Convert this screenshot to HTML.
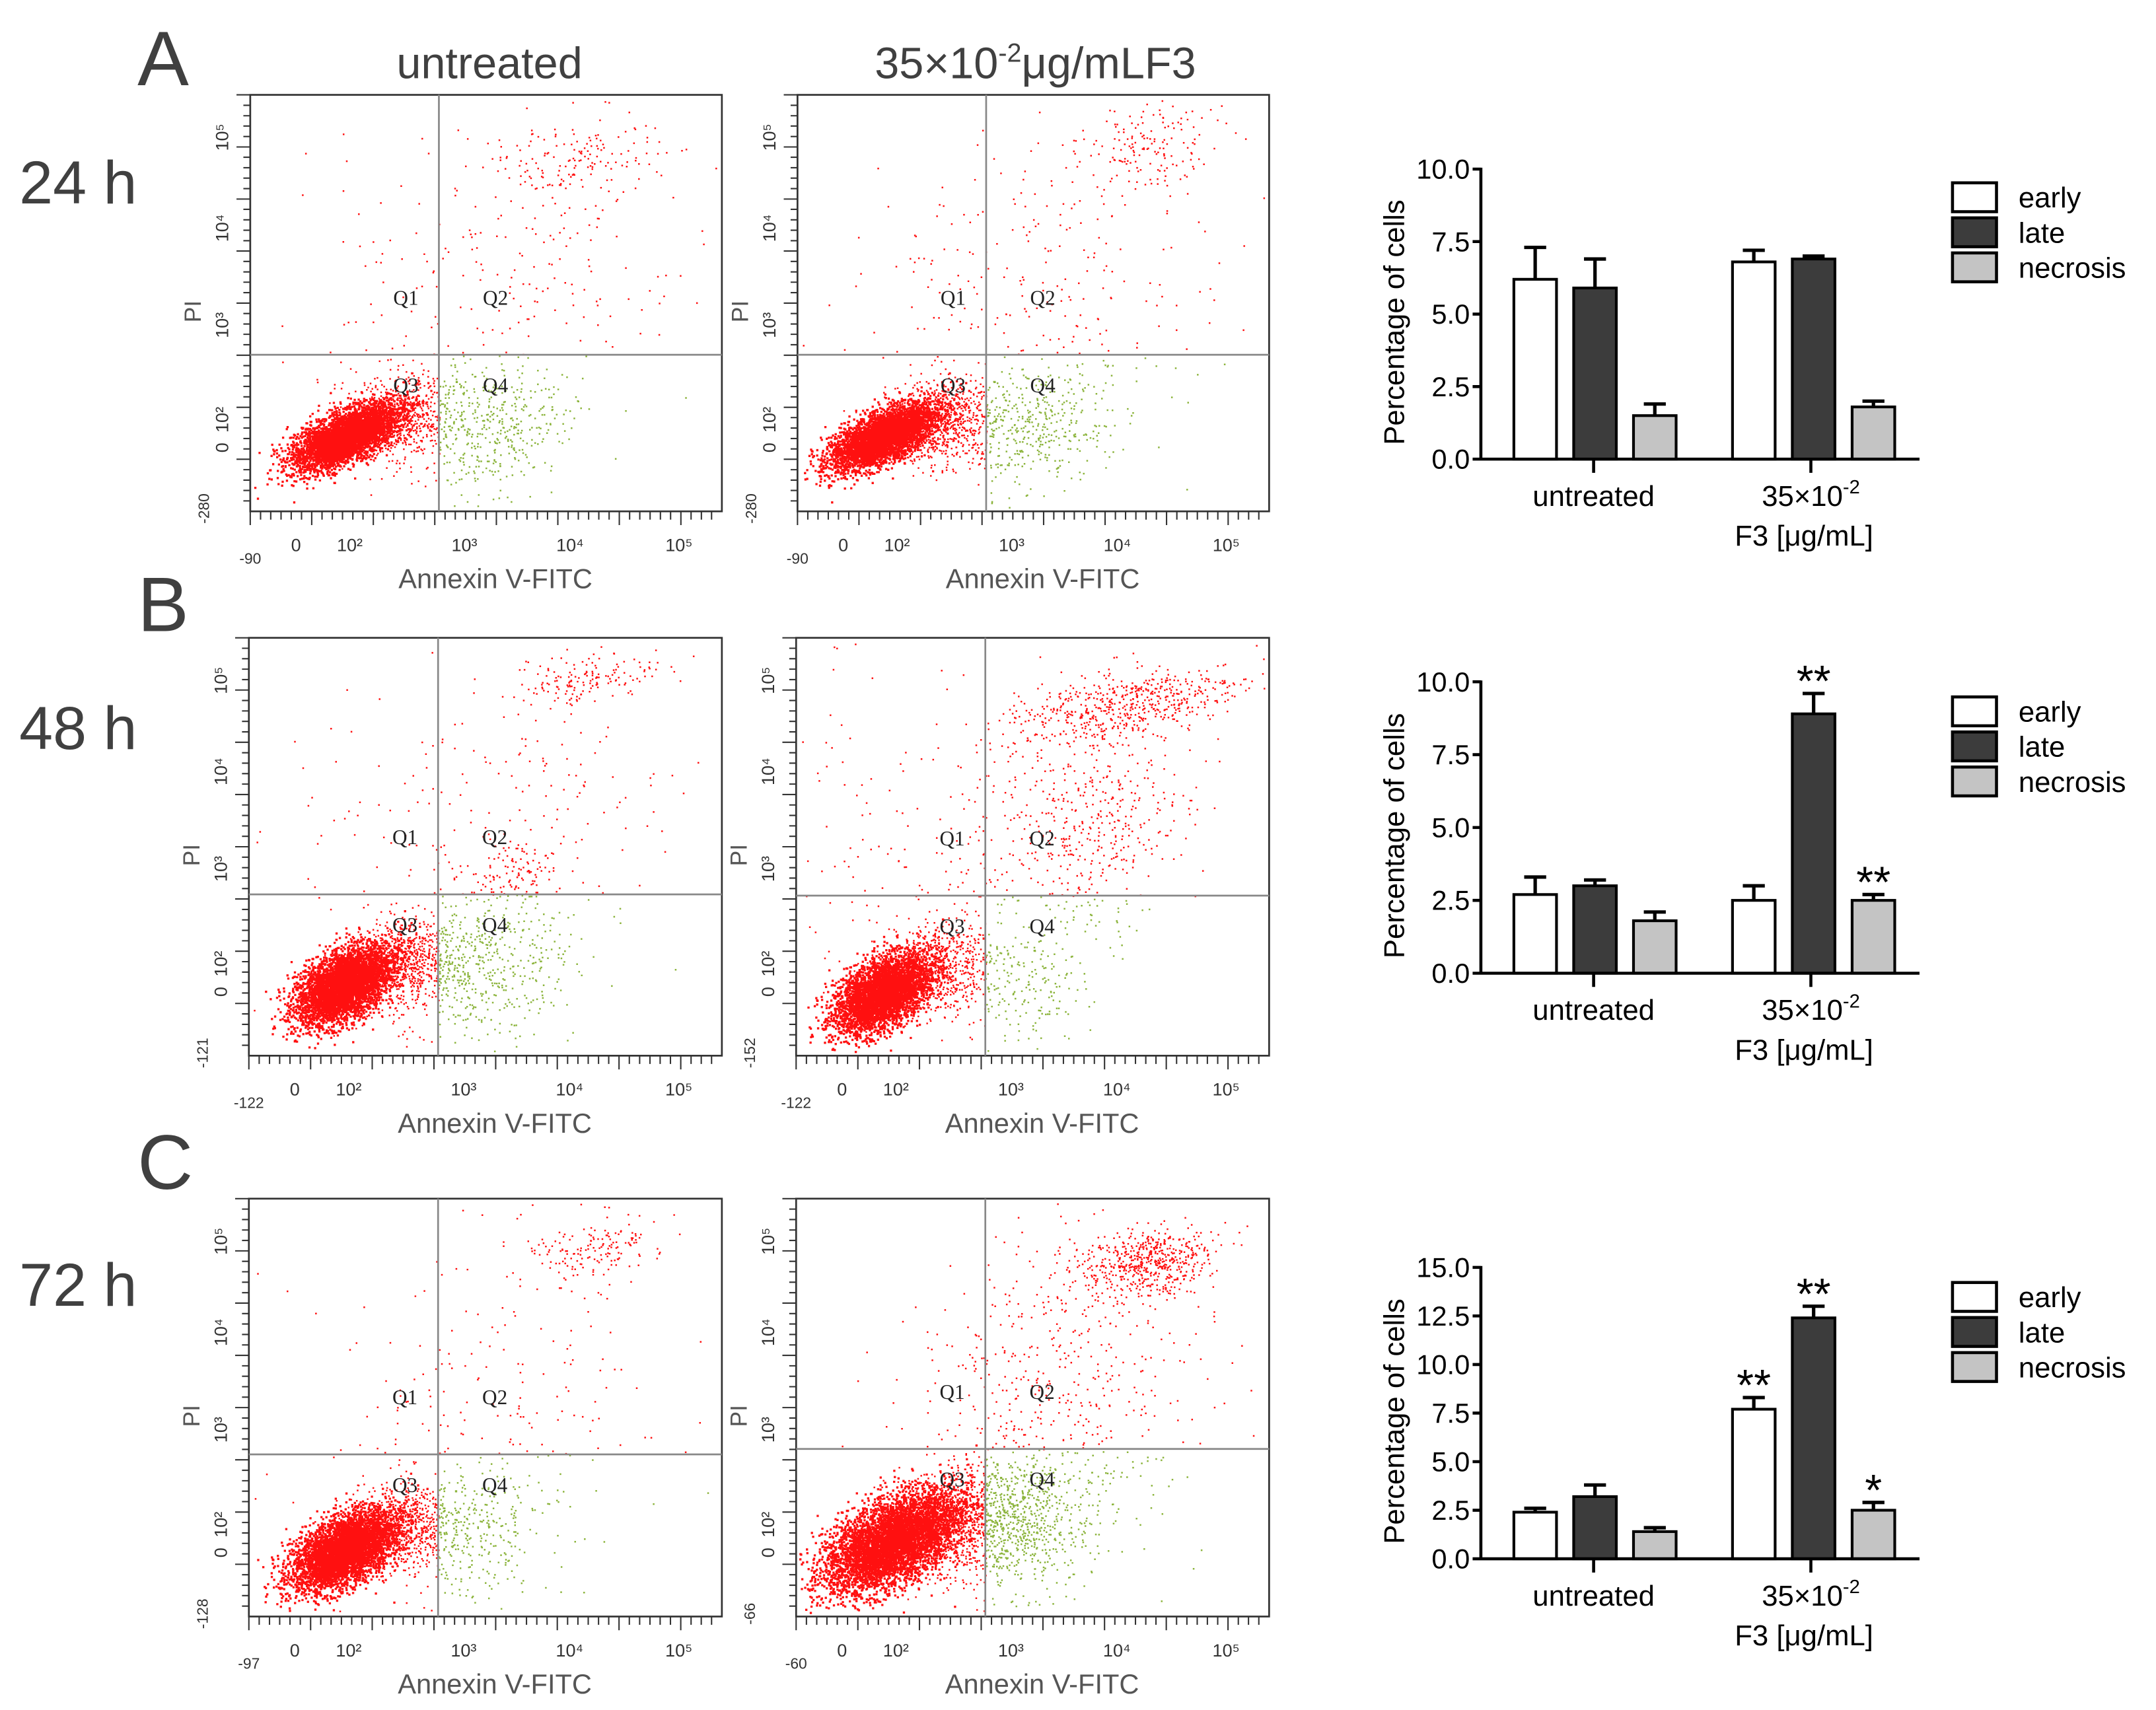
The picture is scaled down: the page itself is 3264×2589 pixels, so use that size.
<!DOCTYPE html>
<html><head><meta charset="utf-8">
<style>
html,body{margin:0;padding:0;background:#fff;}
svg{display:block;font-family:"Liberation Sans",sans-serif;}
</style></head>
<body>
<svg id="fig" xmlns="http://www.w3.org/2000/svg" width="3264" height="2589" viewBox="0 0 1568 1244" preserveAspectRatio="none">
<rect x="0" y="0" width="1568" height="1244" fill="#fff"/>
<g fill="#404040">
<text x="100" y="62" font-size="56">A</text>
<text x="100" y="459" font-size="56">B</text>
<text x="100" y="865" font-size="56">C</text>
<text x="14" y="148" font-size="44">24 h</text>
<text x="14" y="545" font-size="44">48 h</text>
<text x="14" y="950" font-size="44">72 h</text>
<text x="356" y="57" font-size="32" text-anchor="middle">untreated</text>
<text x="753" y="57" font-size="32" text-anchor="middle">35×10<tspan dy="-12" font-size="19">-2</tspan><tspan dy="12">μg/mLF3</tspan></text>
</g>
<g id="scatters"></g>
<g id="bars"></g>
</svg>
<script>
// ---------- Bar chart data ----------
const groups = ["untreated", "35×10-2"];
const seriesNames = ["early", "late", "necrosis"];
const seriesFill = ["#ffffff", "#3c3c3c", "#c4c4c4"];
const valsA = [[6.2, 5.9, 1.5], [6.8, 6.9, 1.8]];
const errA  = [[1.1, 1.0, 0.4], [0.4, 0.1, 0.2]];
const valsB = [[2.7, 3.0, 1.8], [2.5, 8.9, 2.5]];
const errB  = [[0.6, 0.2, 0.3], [0.5, 0.7, 0.2]];
const valsC = [[2.4, 3.2, 1.4], [7.7, 12.4, 2.5]];
const errC  = [[0.2, 0.6, 0.2], [0.6, 0.6, 0.4]];
const starsB = [["", "", ""], ["", "**", "**"]];
const starsC = [["", "", ""], ["**", "**", "*"]];
const starsA = [["", "", ""], ["", "", ""]];
const ticksAB = [0, 2.5, 5, 7.5, 10];
const ticksC = [0, 2.5, 5, 7.5, 10, 12.5, 15];

// ---------- Scatter cluster data (fraction coords: cx, cy, sx, sy, count) ----------
const clustersA1 = [[0.2,0.82,0.055,0.03,4200],[0.32,0.77,0.06,0.05,700],[0.52,0.8,0.08,0.07,380],[0.5,0.45,0.22,0.2,260],[0.71,0.15,0.08,0.05,140]];
const clustersA2 = [[0.18,0.82,0.055,0.03,4200],[0.31,0.78,0.06,0.05,700],[0.5,0.8,0.08,0.07,380],[0.5,0.45,0.22,0.2,280],[0.73,0.12,0.08,0.05,160]];
const clustersB1 = [[0.2,0.83,0.05,0.04,4500],[0.32,0.77,0.06,0.05,700],[0.48,0.8,0.1,0.08,500],[0.55,0.56,0.05,0.05,120],[0.5,0.45,0.2,0.2,220],[0.72,0.1,0.08,0.03,160]];
const clustersB2 = [[0.18,0.85,0.05,0.04,4000],[0.29,0.79,0.06,0.05,700],[0.46,0.82,0.08,0.07,200],[0.62,0.45,0.1,0.14,420],[0.7,0.16,0.12,0.04,550],[0.35,0.5,0.2,0.22,280]];
const clustersC1 = [[0.2,0.84,0.055,0.04,4500],[0.31,0.79,0.06,0.05,700],[0.47,0.8,0.08,0.08,300],[0.5,0.5,0.2,0.2,200],[0.73,0.12,0.07,0.04,170]];
const clustersC2 = [[0.2,0.82,0.07,0.05,6000],[0.33,0.77,0.07,0.06,900],[0.47,0.78,0.08,0.08,650],[0.55,0.45,0.15,0.2,550],[0.74,0.15,0.07,0.04,550]];

const NS = "http://www.w3.org/2000/svg";
function mk(tag, parent) { const e = document.createElementNS(NS, tag); parent.appendChild(e); return e; }

let seed = 12345;
function rnd() { seed = (seed * 1103515245 + 12345) & 0x7fffffff; return seed / 0x7fffffff; }
function gauss() { let u = rnd() || 1e-6, v = rnd(); return Math.sqrt(-2 * Math.log(u)) * Math.cos(2 * Math.PI * v); }

const scatterPanels = [
  {x:182,y:69,w:343,h:303,vf:0.40,hf:0.624,ymin:"-280",xmin:"-90",cl:clustersA1},
  {x:580,y:69,w:343,h:303,vf:0.40,hf:0.624,ymin:"-280",xmin:"-90",cl:clustersA2},
  {x:181,y:464,w:344,h:304,vf:0.40,hf:0.614,ymin:"-121",xmin:"-122",cl:clustersB1},
  {x:579,y:464,w:344,h:304,vf:0.40,hf:0.617,ymin:"-152",xmin:"-122",cl:clustersB2},
  {x:181,y:872,w:344,h:304,vf:0.40,hf:0.612,ymin:"-128",xmin:"-97",cl:clustersC1},
  {x:579,y:872,w:344,h:304,vf:0.40,hf:0.599,ymin:"-66",xmin:"-60",cl:clustersC2}
];
const sg = document.getElementById("scatters");
const xTickF = [0.097, 0.211, 0.454, 0.678, 0.909];
const xTickL = ["0", "10²", "10³", "10⁴", "10⁵"];
const yTickF = [0.847, 0.78, 0.553, 0.32, 0.102];
const yTickL = ["0", "10²", "10³", "10⁴", "10⁵"];

scatterPanels.forEach((p, pi) => {
  const g = mk("g", sg);
  
  
  let red = "", green = "";
  p.cl.forEach((c, ci) => {
    const tilt = ci === 0 ? 0.45 : 0.15;
    const sz = ci === 0 ? 1.6 : 1.2;
    for (let i = 0; i < c[4]; i++) {
      const dx = gauss() * c[2];
      let fx = c[0] + dx, fy = c[1] + gauss() * c[3] - tilt * dx;
      if (fx < 0.005 || fx > 0.99 || fy < 0.01 || fy > 0.99) continue;
      const px = (p.x + fx * p.w).toFixed(1), py = (p.y + fy * p.h).toFixed(1);
      const d = "M" + px + " " + py + "h" + sz + "v" + sz + "h-" + sz + "z";
      if (fx > p.vf && fy > p.hf) green += d; else red += d;
    }
  });
  const rp = mk("path", g);
  
  
  rp.setAttribute("d", red); rp.setAttribute("fill", "#ff1010");
  const gp = mk("path", g);
  
  
  gp.setAttribute("d", green); gp.setAttribute("fill", "#8cb43c");
  const fr = mk("rect", g);
  
  
  fr.setAttribute("x", p.x); fr.setAttribute("y", p.y); fr.setAttribute("width", p.w); fr.setAttribute("height", p.h);
  fr.setAttribute("fill", "none"); fr.setAttribute("stroke", "#333"); fr.setAttribute("stroke-width", "1.3");
  const vl = mk("line", g);
  
  
  vl.setAttribute("x1", p.x + p.vf * p.w); vl.setAttribute("x2", p.x + p.vf * p.w);
  vl.setAttribute("y1", p.y); vl.setAttribute("y2", p.y + p.h);
  vl.setAttribute("stroke", "#888"); vl.setAttribute("stroke-width", "1.3");
  const hl = mk("line", g);
  
  
  hl.setAttribute("x1", p.x); hl.setAttribute("x2", p.x + p.w);
  hl.setAttribute("y1", p.y + p.hf * p.h); hl.setAttribute("y2", p.y + p.hf * p.h);
  hl.setAttribute("stroke", "#888"); hl.setAttribute("stroke-width", "1.3");
  const ql = [["Q1", p.vf - 0.07, p.hf - 0.12], ["Q2", p.vf + 0.12, p.hf - 0.12], ["Q3", p.vf - 0.07, p.hf + 0.09], ["Q4", p.vf + 0.12, p.hf + 0.09]];
  ql.forEach(q => {
    const t = mk("text", g);
    
    
    t.setAttribute("x", p.x + q[1] * p.w); t.setAttribute("y", p.y + q[2] * p.h);
    t.setAttribute("font-size", "15"); t.setAttribute("fill", "#222"); t.setAttribute("font-family", "Liberation Serif, serif");
    t.setAttribute("text-anchor", "middle");
    t.textContent = q[0];
  });
  let minor = "";
  for (let i = 0; i < 46; i++) {
    const fx = i / 46; const len = (i % 6 === 0) ? 10 : 6;
    minor += "M" + (p.x + fx * p.w).toFixed(1) + " " + (p.y + p.h) + "v" + len;
  }
  for (let i = 0; i < 40; i++) {
    const fy = i / 40; const len = (i % 5 === 0) ? 10 : 5;
    minor += "M" + p.x + " " + (p.y + fy * p.h).toFixed(1) + "h-" + len;
  }
  const tk = mk("path", g);
  
  
  tk.setAttribute("d", minor); tk.setAttribute("stroke", "#333"); tk.setAttribute("stroke-width", "1");
  xTickF.forEach((f, i) => {
    const t = mk("text", g);
    
    
    t.setAttribute("x", p.x + f * p.w); t.setAttribute("y", p.y + p.h + 29);
    t.setAttribute("font-size", "13"); t.setAttribute("fill", "#333"); t.setAttribute("text-anchor", "middle");
    t.textContent = xTickL[i];
  });
  const xm = mk("text", g);
  
  
  xm.setAttribute("x", p.x); xm.setAttribute("y", p.y + p.h + 38);
  xm.setAttribute("font-size", "11"); xm.setAttribute("fill", "#333"); xm.setAttribute("text-anchor", "middle");
  xm.textContent = p.xmin;
  yTickF.forEach((f, i) => {
    const t = mk("text", g);
    
    
    const tx = p.x - 16, ty = p.y + f * p.h;
    t.setAttribute("transform", "translate(" + tx + "," + ty + ") rotate(-90)");
    t.setAttribute("font-size", "13"); t.setAttribute("fill", "#333"); t.setAttribute("text-anchor", "middle");
    t.textContent = yTickL[i];
  });
  const ym = mk("text", g);
  
  
  ym.setAttribute("transform", "translate(" + (p.x - 30) + "," + (p.y + p.h - 2) + ") rotate(-90)");
  ym.setAttribute("font-size", "11"); ym.setAttribute("fill", "#333"); ym.setAttribute("text-anchor", "middle");
  ym.textContent = p.ymin;
  const yt = mk("text", g);
  
  
  yt.setAttribute("transform", "translate(" + (p.x - 36) + "," + (p.y + 0.52 * p.h) + ") rotate(-90)");
  yt.setAttribute("font-size", "17"); yt.setAttribute("fill", "#555"); yt.setAttribute("text-anchor", "middle");
  yt.textContent = "PI";
  const xt = mk("text", g);
  
  
  xt.setAttribute("x", p.x + 0.52 * p.w); xt.setAttribute("y", p.y + p.h + 56);
  xt.setAttribute("font-size", "20"); xt.setAttribute("fill", "#555"); xt.setAttribute("text-anchor", "middle");
  xt.textContent = "Annexin V-FITC";
});

// ---------- Bar charts ----------
const bg = document.getElementById("bars");
const barCharts = [
  {vals: valsA, err: errA, stars: starsA, ticks: ticksAB, ymax: 10, y0: 334, y1: 123, legY: 143},
  {vals: valsB, err: errB, stars: starsB, ticks: ticksAB, ymax: 10, y0: 708, y1: 496, legY: 517},
  {vals: valsC, err: errC, stars: starsC, ticks: ticksC, ymax: 15, y0: 1134, y1: 922, legY: 943}
];
const ax = 1077, axEnd = 1396, barW = 31;
const groupStart = [1101, 1260], barStep = 43.5;
barCharts.forEach((c, ci) => {
  const g = mk("g", bg);
  
  
  const yS = v => c.y0 - (v / c.ymax) * (c.y0 - c.y1);
  c.vals.forEach((grp, gi) => {
    grp.forEach((v, si) => {
      const x = groupStart[gi] + si * barStep;
      const top = yS(v), et = yS(v + c.err[gi][si]);
      const eb = mk("path", g);
      
      
      eb.setAttribute("d", "M" + (x + barW / 2) + " " + top + "V" + et + "M" + (x + barW / 2 - 8) + " " + et + "h16");
      eb.setAttribute("stroke", "#000"); eb.setAttribute("stroke-width", "2.5");
      const r = mk("rect", g);
      
      
      r.setAttribute("x", x); r.setAttribute("y", top); r.setAttribute("width", barW); r.setAttribute("height", c.y0 - top);
      r.setAttribute("fill", seriesFill[si]); r.setAttribute("stroke", "#000"); r.setAttribute("stroke-width", "2");
      if (c.stars[gi][si]) {
        const st = mk("text", g);
        
        
        st.setAttribute("x", x + barW / 2); st.setAttribute("y", et + 2);
        st.setAttribute("font-size", "32"); st.setAttribute("text-anchor", "middle"); st.setAttribute("fill", "#000");
        st.textContent = c.stars[gi][si];
      }
    });
  });
  const axes = mk("path", g);
  
  
  let d = "M" + ax + " " + (c.y1 - 1) + "V" + c.y0 + "M" + (ax - 6) + " " + c.y0 + "H" + axEnd;
  c.ticks.forEach(t => { d += "M" + (ax - 6) + " " + yS(t) + "H" + ax; });
  d += "M1159 " + c.y0 + "v10M1317 " + c.y0 + "v10";
  axes.setAttribute("d", d); axes.setAttribute("stroke", "#000"); axes.setAttribute("stroke-width", "2.2"); axes.setAttribute("fill", "none");
  c.ticks.forEach(t => {
    const tl = mk("text", g);
    
    
    tl.setAttribute("x", ax - 8); tl.setAttribute("y", yS(t) + 7);
    tl.setAttribute("font-size", "20"); tl.setAttribute("text-anchor", "end"); tl.setAttribute("fill", "#000");
    tl.textContent = t.toFixed(1);
  });
  const yt = mk("text", g);
  
  
  yt.setAttribute("transform", "translate(1021," + ((c.y0 + c.y1) / 2 + 6) + ") rotate(-90)");
  yt.setAttribute("font-size", "21"); yt.setAttribute("text-anchor", "middle"); yt.setAttribute("fill", "#000");
  yt.textContent = "Percentage of cells";
  const c1 = mk("text", g);
  
  
  c1.setAttribute("x", 1159); c1.setAttribute("y", c.y0 + 34);
  c1.setAttribute("font-size", "21"); c1.setAttribute("text-anchor", "middle");
  c1.textContent = groups[0];
  const c2 = mk("text", g);
  
  
  c2.setAttribute("x", 1317); c2.setAttribute("y", c.y0 + 34);
  c2.setAttribute("font-size", "21"); c2.setAttribute("text-anchor", "middle");
  c2.innerHTML = '35×10<tspan dy="-9" font-size="14">-2</tspan>';
  const c3 = mk("text", g);
  
  
  c3.setAttribute("x", 1312); c3.setAttribute("y", c.y0 + 63);
  c3.setAttribute("font-size", "21"); c3.setAttribute("text-anchor", "middle");
  c3.textContent = "F3 [μg/mL]";
  seriesNames.forEach((n, si) => {
    const ly = c.legY + si * 25.5;
    const lr = mk("rect", g);
    
    
    lr.setAttribute("x", 1420); lr.setAttribute("y", ly - 10); lr.setAttribute("width", 32); lr.setAttribute("height", 21);
    lr.setAttribute("fill", seriesFill[si]); lr.setAttribute("stroke", "#000"); lr.setAttribute("stroke-width", "2.2");
    const lt = mk("text", g);
    
    
    lt.setAttribute("x", 1468); lt.setAttribute("y", ly + 8);
    lt.setAttribute("font-size", "21"); lt.setAttribute("fill", "#000");
    lt.textContent = n;
  });
});
</script>
</body></html>
